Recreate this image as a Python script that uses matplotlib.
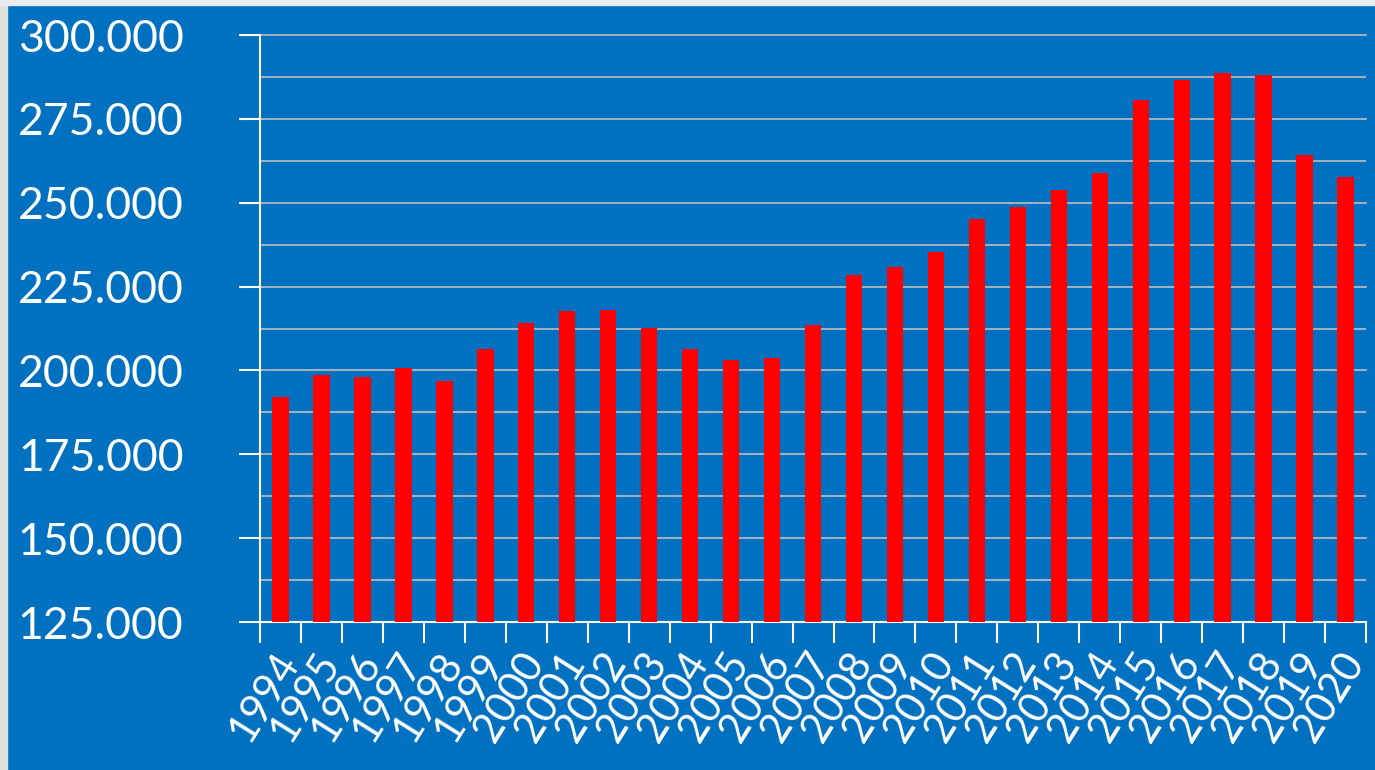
import matplotlib.pyplot as plt
from matplotlib.ticker import MultipleLocator, FuncFormatter
from matplotlib.patches import Rectangle
import matplotlib.transforms as mtransforms
import numpy as np

# Data
years = [str(y) for y in range(1994, 2021)]
values = [192.1, 198.6, 198.0, 200.7, 196.8, 206.4, 214.1, 217.7, 218.0, 212.6,
          206.4, 203.1, 203.7, 213.5, 228.4, 230.8, 235.3, 245.1, 248.7, 253.8,
          258.9, 280.6, 286.6, 288.7, 288.1, 264.2, 257.7]

blue = '#0070C0'
plt.rcParams['font.family'] = ['Lato', 'DejaVu Sans']

fig = plt.figure(figsize=(13.75, 7.7), dpi=100, facecolor=blue)
# pale strips of the slide background showing at the left and top edges
fig.patches.append(Rectangle((0, 0), 7 / 1375, 1, transform=fig.transFigure,
                             color='#DCE2DC', zorder=0))
fig.patches.append(Rectangle((0, 1 - 5 / 770), 1, 5 / 770,
                             transform=fig.transFigure, color='#E8ECEE', zorder=0))

ax = fig.add_axes([0.1891, 0.1922, 0.8044, 0.7623])
ax.set_facecolor(blue)

x = np.arange(len(years))
ax.bar(x, values, width=0.4, color='#FF0000', zorder=3)

ax.set_xlim(-0.5, len(years) - 0.5)
ax.set_ylim(125, 300)

# y axis
ax.yaxis.set_major_locator(MultipleLocator(25))
ax.yaxis.set_minor_locator(MultipleLocator(12.5))
ax.yaxis.set_major_formatter(FuncFormatter(lambda v, p: f'{v:.3f}'))
ax.grid(axis='y', which='both', color='#BFBFBF', linewidth=1.2, zorder=1)
for t in ax.yaxis.get_major_ticks():
    t.gridline.set_clip_on(False)
ax.tick_params(axis='y', which='major', direction='out', length=15, width=1.5,
               color='white', labelcolor='white', labelsize=32, pad=40)
ax.tick_params(axis='y', which='minor', length=0)

# x axis: ticks on category boundaries, labels at centres
ax.set_xticks(x)
ax.set_xticks(np.arange(-0.5, len(years)), minor=True)
ax.set_xticklabels(years, rotation=58, ha='right', va='center',
                   rotation_mode='anchor')
ax.tick_params(axis='x', which='major', length=0, labelcolor='white',
               labelsize=30, pad=24)
ax.tick_params(axis='x', which='minor', direction='out', length=15,
               width=1.5, color='white')
offset = mtransforms.ScaledTranslation(9 / 100, 0, fig.dpi_scale_trans)
for lab in ax.get_xticklabels():
    lab.set_transform(lab.get_transform() + offset)

for side in ['top', 'right']:
    ax.spines[side].set_visible(False)
for side in ['left', 'bottom']:
    ax.spines[side].set_color('white')
    ax.spines[side].set_linewidth(1.5)

fig.savefig('out.png', dpi=100, facecolor=blue)
